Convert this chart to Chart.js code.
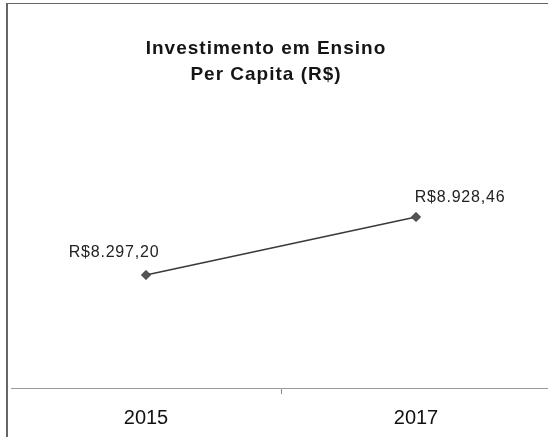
<!DOCTYPE html>
<html>
<head>
<meta charset="utf-8">
<script src="https://cdn.jsdelivr.net/npm/chart.js@4.4.1/dist/chart.umd.min.js"></script>
<style>
  html, body { margin: 0; padding: 0; background: #fff; overflow: hidden; }
  #frame {
    position: absolute; left: 6px; top: 3px; width: 600px; height: 500px;
    border-top: 1px solid #666; border-left: 2px solid #666;
  }
  #wrap { position: absolute; left: 0; top: 0; width: 560px; height: 449px; }
</style>
</head>
<body>
<div id="frame"></div>
<div id="wrap"><canvas id="perCapitaChart" width="560" height="449"></canvas></div>
<script>
// Chart data
const years = ['2015', '2017'];
const investPerCapita = [8297.20, 8928.46];
const valueLabels = ['R$8.297,20', 'R$8.928,46'];
const titleLines = ['Investimento em Ensino', 'Per Capita (R$)'];

// Draws the two-line title (centred a bit left of the plot like the original)
const titlePlugin = {
    id: 'scanTitle',
    afterDraw(chart) {
        const c = chart.ctx;
        c.save();
        c.fillStyle = '#151515';
        c.font = 'bold 19px "Liberation Sans", Arial, sans-serif';
        c.letterSpacing = '1px';
        c.textAlign = 'center';
        c.textBaseline = 'alphabetic';
        c.fillText(titleLines[0], 266, 54);
        c.fillText(titleLines[1], 266, 80);
        c.restore();
    }
};

// Value labels next to each point
const labelOffsets = [[-32, -18], [44, -15]];
const valueLabelPlugin = {
    id: 'valueLabels',
    afterDatasetsDraw(chart) {
        const c = chart.ctx;
        const meta = chart.getDatasetMeta(0);
        c.save();
        c.fillStyle = '#222';
        c.font = '16px "Liberation Sans", Arial, sans-serif';
        c.letterSpacing = '0.8px';
        c.textAlign = 'center';
        c.textBaseline = 'alphabetic';
        meta.data.forEach((pt, i) => {
            c.fillText(valueLabels[i], pt.x + labelOffsets[i][0], pt.y + labelOffsets[i][1]);
        });
        c.restore();
    }
};

const ctx = document.getElementById('perCapitaChart').getContext('2d');
new Chart(ctx, {
    type: 'line',
    data: {
        labels: years,
        datasets: [{
            data: investPerCapita,
            borderColor: '#3a3a3a',
            borderWidth: 1.5,
            pointStyle: 'rectRot',
            pointRadius: 4.5,
            pointBackgroundColor: '#555',
            pointBorderColor: '#333',
            pointBorderWidth: 1,
            tension: 0
        }]
    },
    options: {
        responsive: false,
        animation: false,
        layout: { padding: { left: 11, right: 9, top: 100, bottom: 7 } },
        plugins: {
            legend: { display: false },
            title: { display: false },
            tooltip: { enabled: false }
        },
        scales: {
            x: {
                offset: true,
                grid: {
                    offset: true,
                    drawOnChartArea: false,
                    tickLength: 6,
                    color: (c) => c.index === 1 ? '#888' : 'rgba(0,0,0,0)'
                },
                border: { display: true, color: '#999', width: 1 },
                ticks: {
                    color: '#111',
                    padding: 12,
                    font: { size: 20, family: '"Liberation Sans", Arial, sans-serif' }
                }
            },
            y: {
                display: false,
                min: 7067,
                max: 10202
            }
        }
    },
    plugins: [titlePlugin, valueLabelPlugin]
});
</script>
</body>
</html>
